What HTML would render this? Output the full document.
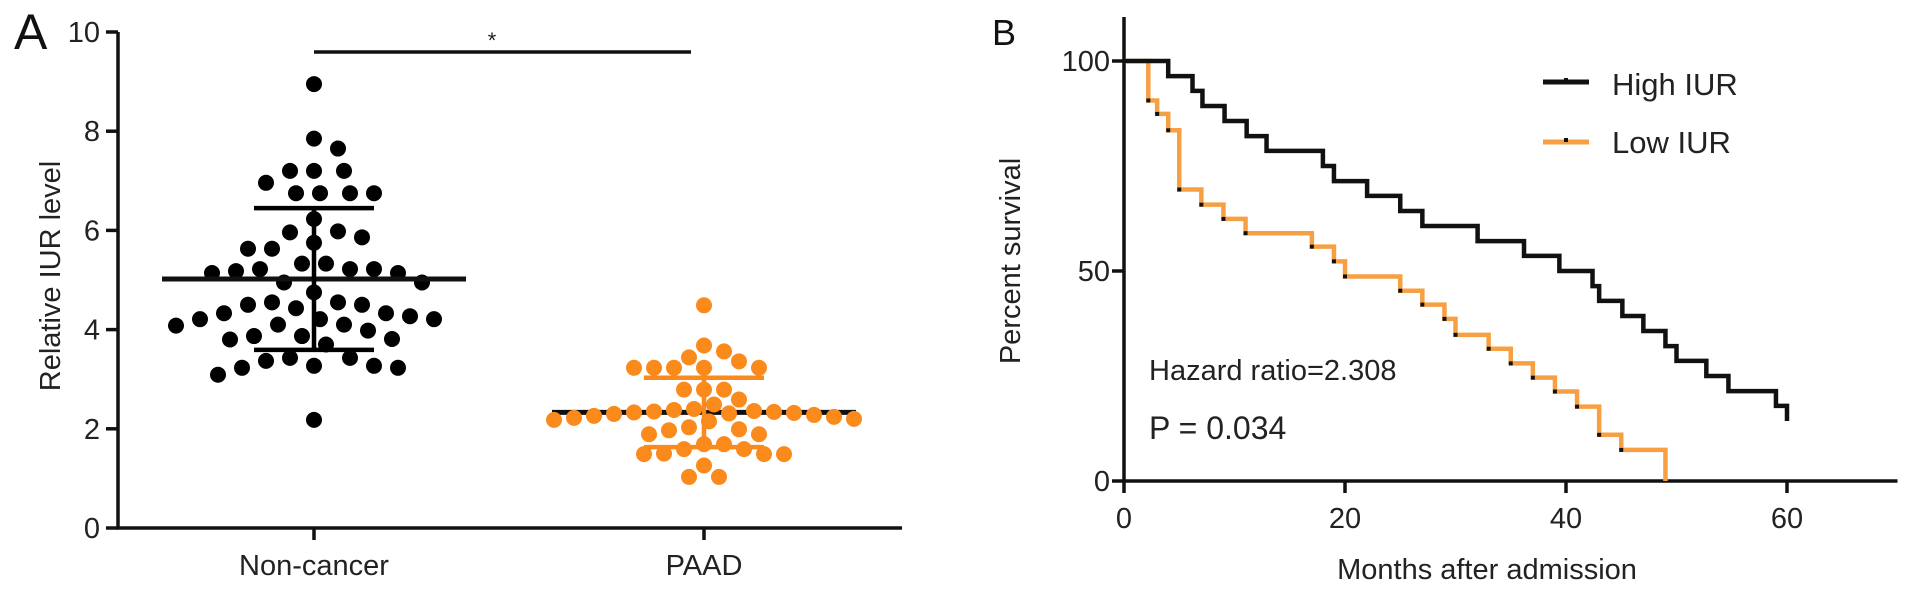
<!DOCTYPE html>
<html><head><meta charset="utf-8"><style>
html,body{margin:0;padding:0;background:#fff;}
svg{display:block;font-family:"Liberation Sans",Arial,sans-serif;}
</style></head><body>
<svg id="fig" width="1913" height="593" viewBox="0 0 1913 593" xmlns="http://www.w3.org/2000/svg">
<g id="panelA"></g>
<g id="panelB"></g>
</svg>
<script>
// ---- Panel A data ----
const categoriesA = ["Non-cancer", "PAAD"];
const nonCancerValues = [8.95,7.85,7.65,7.2,7.2,7.2,6.96,6.75,6.75,6.75,6.75,6.23,5.98,5.96,5.86,5.75,5.63,5.63,5.33,5.33,5.22,5.22,5.22,5.18,5.14,5.14,4.95,4.95,4.75,4.55,4.55,4.5,4.5,4.43,4.33,4.33,4.27,4.21,4.21,4.21,4.1,4.1,4.08,3.98,3.87,3.87,3.81,3.8,3.7,3.43,3.43,3.37,3.27,3.27,3.23,3.23,3.09,2.18];
const paadValues = [4.49,3.68,3.56,3.44,3.36,3.23,3.23,3.23,3.23,3.23,2.79,2.79,2.79,2.59,2.49,2.40,2.38,2.36,2.35,2.34,2.33,2.32,2.31,2.30,2.28,2.26,2.24,2.22,2.2,2.18,2.15,2.03,1.99,1.97,1.89,1.89,1.69,1.69,1.59,1.59,1.5,1.49,1.49,1.49,1.26,1.03,1.03];
const groupMeans = [5.02, 2.33];
const groupSD = [1.43, 0.70];
const yTicksA = [0,2,4,6,8,10];
// ---- Panel B data ----
const highTimes = [4,6.2,7.1,9.1,11.1,12.9,18,19,22,25,27,32,36.2,39.4,42.4,43,45.1,47,49,50,52.7,54.7,59,60];
const highSurv = [96.4,92.9,89.3,85.7,82.1,78.6,75,71.4,67.9,64.3,60.7,57.1,53.6,50,46.4,42.9,39.3,35.7,32.1,28.6,25,21.4,17.9,14.3];
const lowTimes = [2.2,3,4,5,7,9,11,17,19,20,25,27,29,30,33,35,37,39,41,43,45,49];
const lowSurv = [90.6,87.4,83.5,69.4,65.8,62.4,59,55.8,52.3,48.7,45.3,42,38.6,34.8,31.5,28,24.6,21.3,17.7,11,7.4,0];
const xTicksB = [0,20,40,60];
const yTicksB = [0,50,100];

const NS = "http://www.w3.org/2000/svg";
function mk(parent, tag, attrs, text){
  const e = document.createElementNS(NS, tag);
  for (const k in attrs) e.setAttribute(k, attrs[k]);
  if (text !== undefined) e.textContent = text;
  parent.appendChild(e);
  return e;
}
const A = document.getElementById('panelA');
const B = document.getElementById('panelB');

// ---- Panel A scales ----
const yA = v => 528 - v * 49.6;
const xA = i => [314, 704][i];

let t = mk(A,'text',{x:14,y:49,'font-size':50,fill:'#111'},'A');



let ax = mk(A,'path',{d:`M118 ${yA(10)} V528 H902`,stroke:'#111','stroke-width':3.5,fill:'none'});


yTicksA.forEach(v=>{
  const tk = mk(A,'line',{x1:106,x2:118,y1:yA(v),y2:yA(v),stroke:'#111','stroke-width':3.5});
  
  
  const lb = mk(A,'text',{x:100,y:yA(v)+10,'font-size':29,'text-anchor':'end',fill:'#222'},String(v));
  
  
});
categoriesA.forEach((c,i)=>{
  const tk = mk(A,'line',{x1:xA(i),x2:xA(i),y1:528,y2:540,stroke:'#111','stroke-width':3.5});
  
  
  const lb = mk(A,'text',{x:xA(i),y:575,'font-size':29,'text-anchor':'middle',fill:'#222'},c);
  
  
});
t = mk(A,'text',{x:0,y:0,'font-size':29,'text-anchor':'middle',fill:'#222',transform:'translate(60,276) rotate(-90)'},'Relative IUR level');



let sig = mk(A,'line',{x1:xA(0),x2:691,y1:52,y2:52,stroke:'#111','stroke-width':3.5});


t = mk(A,'text',{x:492,y:48,'font-size':22,'text-anchor':'middle',fill:'#222'},'*');



function swarm(vals, cx, color, name, minD, step){
  const placed = [];
  const g = mk(A,'g',{});
  
  
  vals.forEach(v=>{
    const y = yA(v);
    let x = cx;
    for (let k=0;k<80;k++){
      const off = (k===0?0:(k%2? 1:-1)*Math.ceil(k/2)*step);
      const cand = cx + off;
      if (placed.every(p => Math.hypot(p[0]-cand,p[1]-y) >= minD)) { x = cand; break; }
    }
    placed.push([x,y]);
    const c = mk(g,'circle',{cx:x,cy:y,r:8,fill:color});
    
    
  });
}
function meanLine(i){
  const m = mk(A,'line',{x1:xA(i)-152,x2:xA(i)+152,y1:yA(groupMeans[i]),y2:yA(groupMeans[i]),stroke:'#111','stroke-width':5});
  
  
}
function errBar(i,color){
  const top = groupMeans[i]+groupSD[i], bot = groupMeans[i]-groupSD[i];
  const g = mk(A,'path',{d:`M${xA(i)} ${yA(top)} V${yA(bot)} M${xA(i)-60} ${yA(top)} H${xA(i)+60} M${xA(i)-60} ${yA(bot)} H${xA(i)+60}`,stroke:color,'stroke-width':4.5,fill:'none'});
  
  
}
swarm(nonCancerValues, xA(0), '#000', 'non-cancer-points', 23, 6);
meanLine(0); errBar(0,'#000');
meanLine(1);
swarm(paadValues, xA(1), '#fb8a1c', 'paad-points', 17, 5);
errBar(1,'#fb8a1c');

// ---- Panel B scales ----
const xB = m => 1124 + m * 11.05;
const yB = p => 481 - p * 4.2;

t = mk(B,'text',{x:992,y:45,'font-size':36,fill:'#111'},'B');


ax = mk(B,'path',{d:`M1124 17 V481 H${xB(70)}`,stroke:'#111','stroke-width':3.5,fill:'none'});


yTicksB.forEach(v=>{
  const tk = mk(B,'line',{x1:1112,x2:1124,y1:yB(v),y2:yB(v),stroke:'#111','stroke-width':3.5});
  
  
  const lb = mk(B,'text',{x:1110,y:yB(v)+10,'font-size':29,'text-anchor':'end',fill:'#222'},String(v));
  
  
});
xTicksB.forEach(v=>{
  const tk = mk(B,'line',{x1:xB(v),x2:xB(v),y1:481,y2:493,stroke:'#111','stroke-width':3.5});
  
  
  const lb = mk(B,'text',{x:xB(v),y:528,'font-size':29,'text-anchor':'middle',fill:'#222'},String(v));
  
  
});
t = mk(B,'text',{x:1487,y:579,'font-size':29,'text-anchor':'middle',fill:'#222'},'Months after admission');


t = mk(B,'text',{x:0,y:0,'font-size':29,'text-anchor':'middle',fill:'#222',transform:'translate(1020,261) rotate(-90)'},'Percent survival');



function km(times, surv, color, name, marks){
  let d = `M${xB(0)} ${yB(100)}`;
  times.forEach((tm,i)=>{ d += ` H${xB(tm)} V${yB(surv[i])}`; });
  const p = mk(B,'path',{d:d,stroke:color,'stroke-width':4.5,fill:'none'});
  
  
  if (marks){
    times.forEach((tm,i)=>{
      if (surv[i] <= 0) return;
      const r = mk(B,'rect',{x:xB(tm)-2,y:yB(surv[i])-2,width:4,height:4,fill:'#111'});
      
      
    });
  }
}
km(lowTimes, lowSurv, '#f7a043', 'low-iur-curve', true);
km(highTimes, highSurv, '#111', 'high-iur-curve', false);

// legend
[["High IUR",'#111',82,95],["Low IUR",'#f7a043',142,153]].forEach(L=>{
  const g = mk(B,'g',{});
  
  
  mk(g,'line',{x1:1543,x2:1589,y1:L[2],y2:L[2],stroke:L[1],'stroke-width':5});
  mk(g,'rect',{x:1564,y:L[2]-4,width:4,height:4,fill:'#111'});
  mk(g,'text',{x:1612,y:L[3],'font-size':31,fill:'#222'},L[0]);
});
t = mk(B,'text',{x:1149,y:380,'font-size':29,fill:'#222'},'Hazard ratio=2.308');


t = mk(B,'text',{x:1149,y:439,'font-size':32,fill:'#222'},'P = 0.034');


</script>
</body></html>
